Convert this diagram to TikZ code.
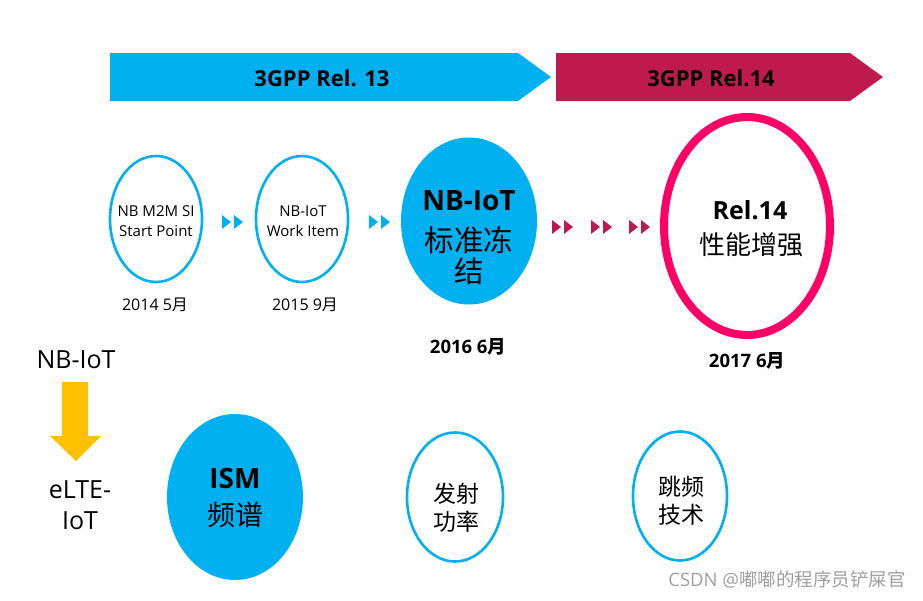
\documentclass[tikz,border=0pt]{standalone}
\usepackage{fontspec}
\setmainfont{Open Sans}
\newfontfamily\cjk{Noto Sans CJK SC}
\usetikzlibrary{shapes.geometric}
\definecolor{cblue}{HTML}{00B0F0}
\definecolor{cmag}{HTML}{BE1A50}
\definecolor{cpink}{HTML}{FF0066}
\definecolor{cyel}{HTML}{FFC000}
\tikzset{
  ring/.style={ellipse, draw=cblue, line width=2.6pt, inner sep=0pt},
  blob/.style={ellipse, fill=cblue, inner sep=0pt},
  txt/.style={align=center, inner sep=0pt},
  datelbl/.style={font=\fontsize{16}{18}\selectfont},
  datebold/.style={font=\fontsize{18.5}{20}\selectfont\bfseries},
  pics/dbltri/.style={code={
    \fill[#1] (-11,-7) -- (-2,0) -- (-11,7) -- cycle;
    \fill[#1] (1,-7) -- (10,0) -- (1,7) -- cycle;
  }}
}
\begin{document}
\begin{tikzpicture}[x=1pt,y=-1pt]
\useasboundingbox (0,0) rectangle (923,600);
% banners
\fill[cblue] (110,53) -- (518,53) -- (551,77) -- (518,101) -- (110,101) -- cycle;
\node (r13) at (322,78) {\fontsize{22}{24}\selectfont\bfseries 3GPP Rel. 13};
\fill[cmag] (556,53) -- (850,53) -- (883,77) -- (850,101) -- (556,101) -- cycle;
\node (r14) at (711,78) {\fontsize{22}{24}\selectfont\bfseries 3GPP Rel.14};
% top ellipses
\node[ring, minimum width=92pt, minimum height=126pt] (e1) at (156,219) {};
\node[txt, font=\fontsize{15}{20}\selectfont] (t1) at (156,221) {NB M2M SI\\Start Point};
\node[ring, minimum width=92pt, minimum height=126pt] (e2) at (302,219) {};
\node[txt, font=\fontsize{15}{20}\selectfont] (t2) at (303,221) {NB-IoT\\Work Item};
\node[blob, minimum width=136pt, minimum height=167pt] (e3) at (469,221) {};
\node[txt] (t3a) at (469,201) {\fontsize{28}{30}\selectfont\bfseries NB-IoT};
\node[txt] (t3b) at (469,240) {\fontsize{29.5}{31}\selectfont\cjk 标准冻};
\node[txt] (t3c) at (469,271) {\fontsize{29.5}{31}\selectfont\cjk 结};
\node[ellipse, draw=cpink, line width=8pt, minimum width=166pt, minimum height=218pt] (e4) at (747,226) {};
\node[txt] (t4a) at (750,210) {\fontsize{25}{28}\selectfont\bfseries Rel.14};
\node[txt] (t4b) at (751,245) {\fontsize{26}{28}\selectfont\cjk 性能增强};
% dates
\node[datelbl] (d1) at (155,305) {2014 5{\cjk 月}};
\node[datelbl] (d2) at (305,305) {2015 9{\cjk 月}};
\node[datebold] (d3) at (468,347) {2016 6{\cjk 月}};
\node[datebold] (d4) at (747,361) {2017 6{\cjk 月}};
% double triangles
\pic at (233,222) {dbltri=cblue};
\pic at (380,222) {dbltri=cblue};
\pic at (563,227) {dbltri=cmag};
\pic at (602,227) {dbltri=cmag};
\pic at (640,227) {dbltri=cmag};
% left side
\node[font=\fontsize{25}{28}\selectfont] (nb) at (76,360) {NB-IoT};
\fill[cyel] (62,382) -- (88,382) -- (88,436) -- (101,436) -- (76,461) -- (50,436) -- (62,436) -- cycle;
\node[txt, font=\fontsize{25}{31}\selectfont] (elte) at (80,505) {eLTE-\\IoT};
% bottom ellipses
\node[blob, minimum width=136pt, minimum height=166pt] (ism) at (235,497) {};
\node[txt] (isma) at (235,478) {\fontsize{28}{30}\selectfont\bfseries ISM};
\node[txt] (ismb) at (235,515) {\fontsize{28}{30}\selectfont\cjk 频谱};
\node[ring, minimum width=96pt, minimum height=129pt] (fs) at (455,497) {};
\node[txt, font=\fontsize{23}{28}\selectfont\cjk] (fst) at (456,508) {发射\\功率};
\node[ring, minimum width=94pt, minimum height=129pt] (tp) at (680,496) {};
\node[txt, font=\fontsize{23}{28}\selectfont\cjk] (tpt) at (681,501) {跳频\\技术};
% watermark
\node[text=gray!75, font=\fontsize{18.5}{20}\selectfont] (wm) at (787,580) {CSDN @{\cjk 嘟嘟的程序员铲屎官}};
\end{tikzpicture}
\end{document}
